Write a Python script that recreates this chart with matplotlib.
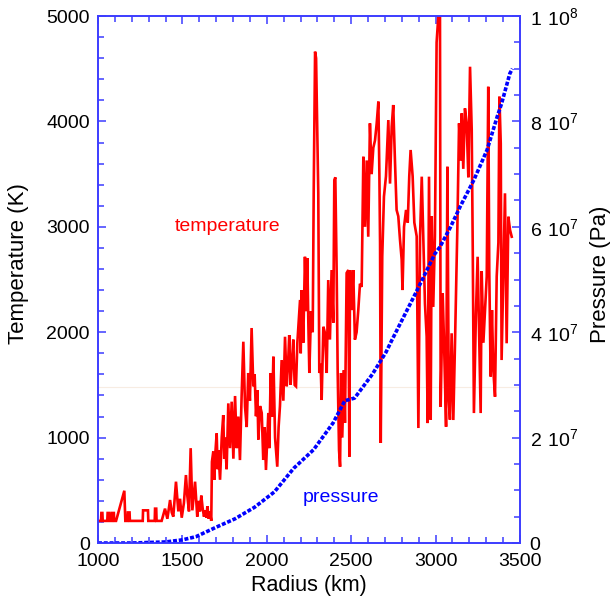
import matplotlib
matplotlib.use('Agg')
import matplotlib.pyplot as plt
from matplotlib.ticker import MultipleLocator, FuncFormatter

plt.rcParams['font.family'] = ['Liberation Sans', 'DejaVu Sans']
plt.rcParams['mathtext.fontset'] = 'custom'
plt.rcParams['mathtext.rm'] = 'Liberation Sans'

# temperature profile (km, K)
radius_t = [
    1000, 1018, 1020, 1026, 1028, 1055, 1057, 1068, 1070, 1082,
    1084, 1094, 1096, 1107, 1156, 1162, 1175, 1177, 1187, 1189,
    1265, 1267, 1296, 1298, 1336, 1338, 1345, 1347, 1377, 1397,
    1411, 1427, 1437, 1446, 1462, 1476, 1486, 1496, 1509, 1521,
    1529, 1539, 1549, 1559, 1575, 1588, 1597, 1604, 1612, 1620,
    1628, 1634, 1642, 1648, 1656, 1663, 1671, 1675, 1683, 1689,
    1693, 1703, 1709, 1713, 1723, 1733, 1742, 1748, 1752, 1762,
    1772, 1782, 1792, 1802, 1812, 1822, 1831, 1841, 1851, 1861,
    1871, 1881, 1890, 1900, 1910, 1920, 1928, 1936, 1944, 1950,
    1960, 1970, 1979, 1987, 1995, 2003, 2009, 2015, 2023, 2031,
    2039, 2049, 2062, 2070, 2078, 2088, 2098, 2108, 2118, 2126,
    2133, 2141, 2147, 2157, 2165, 2173, 2181, 2187, 2197, 2201,
    2207, 2216, 2226, 2234, 2240, 2246, 2252, 2262, 2272, 2278,
    2286, 2292, 2305, 2311, 2319, 2325, 2335, 2345, 2355, 2364,
    2374, 2384, 2394, 2400, 2406, 2414, 2420, 2428, 2434, 2440,
    2447, 2457, 2463, 2473, 2483, 2489, 2493, 2503, 2512, 2522,
    2532, 2542, 2552, 2562, 2572, 2582, 2592, 2601, 2611, 2621,
    2631, 2641, 2651, 2661, 2667, 2671, 2675, 2684, 2694, 2706,
    2720, 2730, 2740, 2749, 2759, 2769, 2779, 2789, 2799, 2804,
    2813, 2825, 2835, 2844, 2852, 2864, 2874, 2888, 2898, 2908,
    2918, 2927, 2937, 2947, 2953, 2961, 2971, 2977, 2986, 2996,
    3006, 3016, 3026, 3030, 3042, 3050, 3062, 3070, 3078, 3085,
    3095, 3105, 3115, 3129, 3139, 3149, 3155, 3164, 3174, 3184,
    3194, 3204, 3214, 3220, 3227, 3239, 3249, 3259, 3267, 3273,
    3283, 3293, 3303, 3312, 3318, 3326, 3334, 3342, 3352, 3362,
    3372, 3378, 3386, 3391, 3401, 3411, 3421, 3431, 3441, 3451,
]
temperature = [
    210, 210, 285, 285, 210, 210, 285, 285, 210, 210,
    285, 285, 210, 210, 496, 210, 210, 290, 290, 210,
    210, 310, 310, 210, 210, 326, 326, 210, 210, 326,
    230, 408, 290, 250, 582, 300, 420, 240, 380, 645,
    450, 300, 900, 310, 582, 250, 400, 300, 450, 330,
    250, 310, 240, 350, 230, 300, 210, 771, 868, 600,
    800, 1040, 700, 880, 600, 1000, 1214, 800, 1000, 700,
    1325, 900, 1341, 800, 1395, 900, 1200, 787, 1400, 1910,
    1293, 1100, 1613, 1350, 2040, 1487, 1600, 1203, 1450, 982,
    1300, 1234, 788, 1100, 693, 1000, 1234, 900, 1613, 1200,
    1768, 1000, 724, 1100, 1300, 1736, 1350, 1957, 1487, 1700,
    1973, 1500, 1670, 1930, 1500, 1487, 1900, 2052, 2306, 1800,
    2400, 1900, 2716, 2200, 2703, 2100, 1613, 2200, 2000, 3349,
    4662, 4600, 3321, 1613, 1700, 1357, 2052, 1990, 1613, 2495,
    1930, 2590, 2090, 3444, 3470, 2560, 1613, 882, 724, 1613,
    1000, 1640, 1140, 2562, 2590, 819, 2590, 2210, 2590, 1930,
    2000, 2210, 2460, 2430, 3665, 3000, 3630, 2906, 3982, 3500,
    3750, 3820, 3980, 4188, 3500, 2844, 949, 2720, 3286, 3480,
    4013, 3410, 3950, 4156, 3640, 3160, 3100, 2880, 2690, 2400,
    3000, 3160, 3040, 3480, 3729, 3480, 3040, 2910, 1091, 2910,
    3476, 2910, 2270, 1960, 1138, 3476, 1170, 3100, 2240, 2910,
    4750, 4994, 5000, 1293, 2370, 1900, 1103, 3570, 1360, 1170,
    1990, 1167, 1900, 3001, 3982, 3630, 4077, 3550, 4124, 3982,
    3470, 4519, 3920, 2810, 1233, 2180, 2716, 1900, 1233, 2580,
    1900, 2210, 2530, 4329, 2580, 1580, 2210, 1640, 1388, 2530,
    2850, 4235, 3790, 1736, 2530, 3318, 1895, 3096, 2970, 2906,
]

# pressure profile (km, Pa)
radius_p = [1000, 1200, 1400, 1500, 1580, 1700, 1812, 1928, 2045, 2160,
            2277, 2393, 2462, 2520, 2625, 2706, 2741, 2880, 2996, 3026,
            3089, 3145, 3227, 3305, 3365, 3391, 3440, 3455]
pressure = [0.0, 0.0, 0.02e7, 0.06e7, 0.12e7, 0.30e7, 0.46e7, 0.68e7,
            0.97e7, 1.42e7, 1.77e7, 2.28e7, 2.70e7, 2.75e7, 3.20e7,
            3.62e7, 3.85e7, 4.73e7, 5.49e7, 5.62e7, 6.00e7, 6.38e7,
            6.89e7, 7.46e7, 8.09e7, 8.34e7, 8.91e7, 9.00e7]

assert len(radius_t) == len(temperature)
assert len(radius_p) == len(pressure)

RED = '#ff0000'
BLUE = '#0000ff'
SPINE = '#3c3cff'


def pressure_label(value, pos):
    if value == 0:
        return '0'
    exponent = len(str(int(value))) - 1
    mantissa = value / 10 ** exponent
    return r'$\mathregular{%g\ 10^{%d}}$' % (mantissa, exponent)


def style_axes(ax, ax2):
    for a in (ax, ax2):
        for spine in a.spines.values():
            spine.set_color(SPINE)
            spine.set_linewidth(1.2)
    ax.set_xlim(1000, 3500)
    ax.set_ylim(0, 5000)
    ax2.set_ylim(0, 1e8)
    ax.xaxis.set_major_locator(MultipleLocator(500))
    ax.xaxis.set_minor_locator(MultipleLocator(100))
    ax.yaxis.set_major_locator(MultipleLocator(1000))
    ax.yaxis.set_minor_locator(MultipleLocator(200))
    ax2.yaxis.set_major_locator(MultipleLocator(2e7))
    ax2.yaxis.set_minor_locator(MultipleLocator(5e6))
    ax2.yaxis.set_major_formatter(FuncFormatter(pressure_label))

    ax.tick_params(which='both', direction='in', color=SPINE,
                   top=True, right=False, labelsize=14)
    ax.tick_params(which='major', length=6, width=1.1)
    ax.tick_params(which='minor', length=4, width=1.1)
    ax.tick_params(axis='x', pad=7)
    ax.tick_params(axis='y', pad=6)
    ax2.tick_params(which='both', direction='in', color=SPINE,
                    labelsize=14, pad=7)
    ax2.tick_params(which='major', length=6, width=1.1)
    ax2.tick_params(which='minor', length=4, width=1.1)

    ax.set_xlabel('Radius (km)', fontsize=15.5, labelpad=4)
    ax.set_ylabel('Temperature (K)', fontsize=16)
    ax.yaxis.set_label_coords(-0.163, 0.53)
    ax2.set_ylabel('Pressure (Pa)', fontsize=16, rotation=90)
    ax2.yaxis.set_label_coords(1.166, 0.51)


def make_plot():
    fig = plt.figure(figsize=(6.14, 6.07), dpi=100)
    ax = fig.add_axes([0.1596, 0.1054, 0.6873, 0.8682])
    ax2 = ax.twinx()

    # faint artefact line in the original scan
    ax.axhline(1480, color='#f7ece2', linewidth=0.8, zorder=0)
    ax.plot(radius_t, temperature, color=RED, linewidth=1.9,
            solid_joinstyle='miter')
    ax2.plot(radius_p, pressure, color=BLUE, linewidth=2.6,
             dashes=(1.1, 0.5))

    ax.text(1770, 3000, 'temperature', color=RED, fontsize=14,
            ha='center', va='center')
    ax.text(2439, 428, 'pressure', color=BLUE, fontsize=14,
            ha='center', va='center')

    style_axes(ax, ax2)
    fig.savefig('out.png', dpi=100)


make_plot()
